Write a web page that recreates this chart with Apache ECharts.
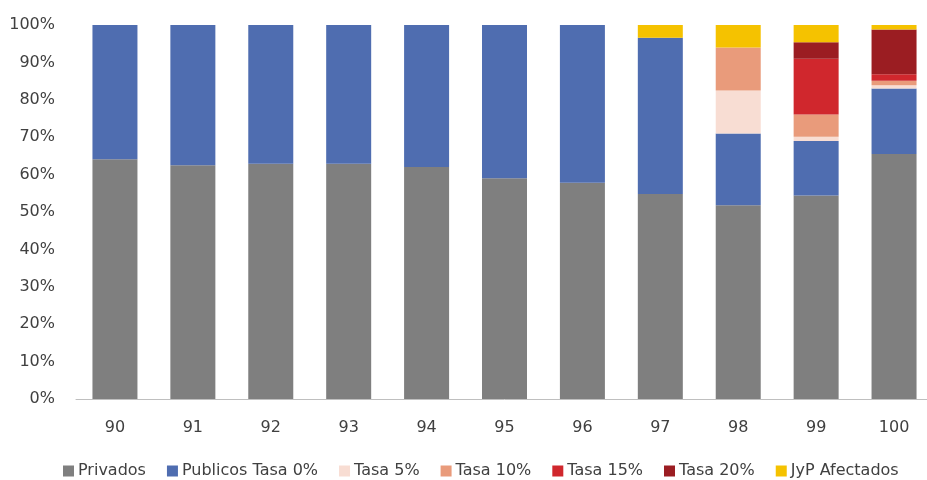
<!DOCTYPE html>
<html>
<head>
<meta charset="utf-8">
<script src="https://cdn.jsdelivr.net/npm/echarts@6/dist/echarts.min.js"></script>
<style>
html, body { margin: 0; padding: 0; background: #fff; overflow: hidden; }
#chart { width: 933px; height: 480px; }
</style>
</head>
<body>
<div id="chart"></div>
<script>
// Categories along the x axis
const categories = ['90', '91', '92', '93', '94', '95', '96', '97', '98', '99', '100'];

// Stacked shares, in percent
const privados  = [64.1, 62.5, 62.9, 62.9, 62.0, 59.0, 57.8, 54.8, 51.8, 54.4, 65.5];
const publicos0 = [35.9, 37.5, 37.1, 37.1, 38.0, 41.0, 42.2, 41.8, 19.2, 14.6, 17.5];
const tasa5     = [0, 0, 0, 0, 0, 0, 0, 0, 11.5, 1.1, 0.9];
const tasa10    = [0, 0, 0, 0, 0, 0, 0, 0, 11.5, 6.0, 1.2];
const tasa15    = [0, 0, 0, 0, 0, 0, 0, 0, 0, 14.9, 1.7];
const tasa20    = [0, 0, 0, 0, 0, 0, 0, 0, 0, 4.4, 12.0];
const jypAfect  = [0, 0, 0, 0, 0, 0, 0, 3.4, 6.0, 4.6, 1.2];

const seriesNames = ['Privados', 'Publicos Tasa 0%', 'Tasa 5%', 'Tasa 10%', 'Tasa 15%', 'Tasa 20%', 'JyP Afectados'];
const seriesData = [privados, publicos0, tasa5, tasa10, tasa15, tasa20, jypAfect];
const colors = ['#7f7f7f', '#4f6db0', '#f8ddd3', '#e99b7b', '#d0272d', '#9b1d22', '#f5c200'];

const chart = echarts.init(document.getElementById('chart'), null, { renderer: 'canvas' });

chart.setOption({
  animation: false,
  color: colors,
  grid: { left: 76, right: 0, top: 25, bottom: 81 },
  legend: {
    top: 458,
    left: 58,
    itemWidth: 11,
    itemHeight: 11,
    itemGap: 21,
    icon: 'rect',
    textStyle: { fontFamily: 'DejaVu Sans', fontSize: 16, color: '#404040', padding: [0, 0, 0, -1] },
    data: seriesNames
  },
  xAxis: {
    type: 'category',
    data: categories,
    axisTick: { show: false },
    axisLine: { lineStyle: { color: '#bfbfbf', width: 1 } },
    axisLabel: { fontFamily: 'DejaVu Sans', fontSize: 16, color: '#404040', margin: 21 }
  },
  yAxis: {
    type: 'value',
    min: 0,
    max: 100,
    interval: 10,
    splitLine: { show: false },
    axisLine: { show: false },
    axisTick: { show: false },
    axisLabel: { formatter: '{value}%', fontFamily: 'DejaVu Sans', fontSize: 16, color: '#404040', margin: 21 }
  },
  series: seriesData.map((d, i) => ({
    name: seriesNames[i],
    type: 'bar',
    stack: 'total',
    data: d,
    barWidth: 45,
    itemStyle: { color: colors[i] }
  }))
});
</script>
</body>
</html>
